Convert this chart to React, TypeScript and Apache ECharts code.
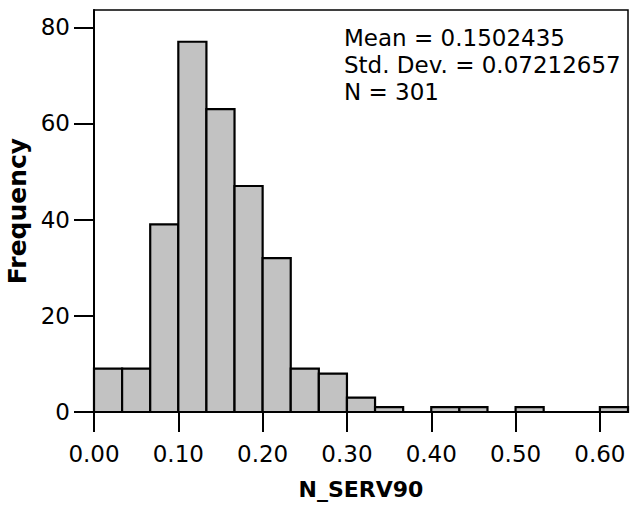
import React, { useEffect, useRef } from "react";
import * as echarts from "echarts";

const binStarts = [0, 1, 2, 3, 4, 5, 6, 7, 8, 9, 10, 11, 12, 13, 14, 15, 16, 17, 18].map((i) => i / 30);
const binWidth = 1 / 30;
const counts = [9, 9, 39, 77, 63, 47, 32, 9, 8, 3, 1, 0, 1, 1, 0, 1, 0, 0, 1];
const xTicks = [0, 0.1, 0.2, 0.3, 0.4, 0.5, 0.6];
const yTicks = [0, 20, 40, 60, 80];
const statLines = ["Mean = 0.1502435", "Std. Dev. = 0.07212657", "N = 301"];

export default function App() {
  const ref = useRef<HTMLDivElement>(null);
  useEffect(() => {
    if (!ref.current) return;
    const chart = echarts.init(ref.current, null, { renderer: "svg" });
    const data = binStarts.map((s, i) => [s, s + binWidth, counts[i]]);
    const font = "'DejaVu Sans', sans-serif";
    chart.setOption({
      animation: false,
      backgroundColor: "#fff",
      grid: {
        left: 94,
        top: 10,
        right: 3,
        bottom: 95,
        outerBoundsMode: "none",
        containLabel: false,
        show: true,
        borderColor: "#000",
        borderWidth: 1.5,
        backgroundColor: "transparent",
      },
      xAxis: {
        type: "value",
        min: 0,
        max: 19 / 30,
        interval: 0.1,
        name: "N_SERV90",
        nameLocation: "middle",
        nameGap: 66,
        nameTextStyle: { fontFamily: font, fontSize: 22, fontWeight: "bold", color: "#000" },
        axisLine: { lineStyle: { color: "#000", width: 2 } },
        axisTick: { show: true, inside: false, length: 20, lineStyle: { color: "#000", width: 2 }, customValues: xTicks },
        axisLabel: {
          fontFamily: font,
          fontSize: 23,
          color: "#000",
          margin: 30,
          customValues: xTicks,
          formatter: (v: number) => v.toFixed(2),
        },
        splitLine: { show: false },
      },
      yAxis: {
        type: "value",
        min: 0,
        max: 83.6,
        interval: 20,
        name: "Frequency",
        nameLocation: "middle",
        nameGap: 57,
        nameTextStyle: { fontFamily: font, fontSize: 25, fontWeight: "bold", color: "#000" },
        axisLine: { show: true, lineStyle: { color: "#000", width: 2 } },
        axisTick: { show: true, inside: false, length: 20, lineStyle: { color: "#000", width: 2 }, customValues: yTicks },
        axisLabel: { fontFamily: font, fontSize: 23, color: "#000", margin: 24, customValues: yTicks },
        splitLine: { show: false },
      },
      series: [
        {
          type: "custom",
          data,
          encode: { x: [0, 1], y: 2 },
          renderItem: (params: any, api: any) => {
            const x0 = api.value(0);
            const x1 = api.value(1);
            const c = api.value(2);
            if (!c) return null;
            const p0 = api.coord([x0, c]);
            const p1 = api.coord([x1, 0]);
            return {
              type: "rect",
              shape: { x: p0[0], y: p0[1], width: p1[0] - p0[0], height: p1[1] - p0[1] },
              style: { fill: "#c2c2c2", stroke: "#000", lineWidth: 2.2 },
            };
          },
        },
      ],
      graphic: statLines.map((t, i) => ({
        type: "text",
        left: 344,
        top: 26 + i * 27,
        style: { text: t, fontFamily: font, fontSize: 23, fill: "#000" },
      })),
    });
    return () => chart.dispose();
  }, []);
  return <div ref={ref} style={{ position: "absolute", left: 0, top: 0, width: 631, height: 507 }} />;
}
